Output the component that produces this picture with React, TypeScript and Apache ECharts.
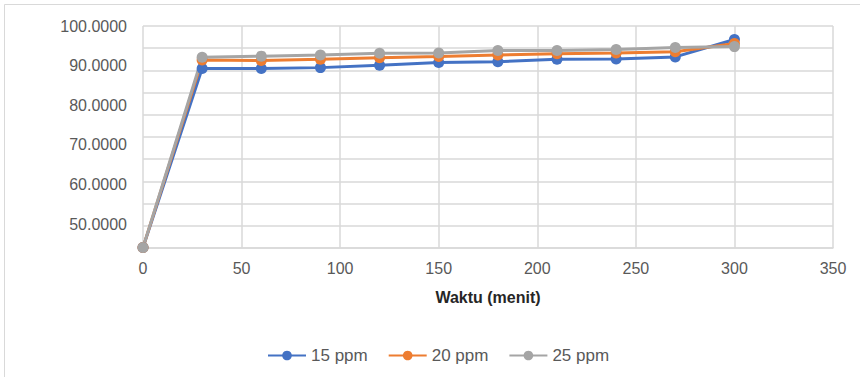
import React, { useEffect, useRef } from "react";
import * as echarts from "echarts";

const times = [0, 30, 60, 90, 120, 150, 180, 210, 240, 270, 300];
const seriesNames = ["15 ppm", "20 ppm", "25 ppm"];
const ppm15 = [44.1, 89.3, 89.3, 89.5, 90.1, 90.8, 91.0, 91.6, 91.7, 92.2, 96.6];
const ppm20 = [44.1, 91.4, 91.3, 91.6, 92.0, 92.3, 92.7, 93.0, 93.2, 93.5, 95.6];
const ppm25 = [44.1, 92.1, 92.4, 92.7, 93.1, 93.2, 93.8, 93.8, 94.1, 94.6, 94.8];
const colors = ["#4472C4", "#ED7D31", "#A5A5A5"];
const xTitle = "Waktu (menit)";

export default function App() {
  const ref = useRef<HTMLDivElement>(null);
  useEffect(() => {
    if (!ref.current) return;
    const chart = echarts.init(ref.current, null, { renderer: "svg" });
    const all = [ppm15, ppm20, ppm25];
    chart.setOption({
      animation: false,
      backgroundColor: "#ffffff",
      textStyle: { fontFamily: "Liberation Sans, Arial, sans-serif" },
      graphic: [
        {
          type: "rect",
          shape: { x: 4.5, y: 4.5, width: 900, height: 420 },
          style: { fill: "none", stroke: "#d9d9d9", lineWidth: 1 },
          silent: true,
          z: -10,
        },
      ],
      grid: { left: 143, right: 27, top: 26, bottom: 129 },
      legend: {
        data: seriesNames,
        left: 262,
        top: 342,
        itemWidth: 38,
        itemHeight: 12,
        itemGap: 20,
        textStyle: { color: "#595959", fontSize: 17 },
      },
      xAxis: {
        type: "value",
        min: 0,
        max: 350,
        interval: 50,
        name: xTitle,
        nameLocation: "middle",
        nameGap: 41,
        nameTextStyle: { color: "#262626", fontSize: 16, fontWeight: "bold" },
        axisLine: { show: true, lineStyle: { color: "#d9d9d9", width: 1.5 } },
        axisTick: { show: false },
        axisLabel: { color: "#595959", fontSize: 16, margin: 12 },
        splitLine: { show: true, lineStyle: { color: "#d9d9d9", width: 1.5 } },
      },
      yAxis: [
        {
          type: "value",
          min: 44,
          max: 100,
          interval: 2,
          position: "left",
          axisLine: { show: false },
          axisTick: { show: false },
          splitLine: { show: false },
          axisLabel: {
            color: "#595959",
            fontSize: 16,
            margin: 16,
            formatter: (v: number) =>
              Math.abs(v % 10) < 1e-6 ? v.toFixed(4) : "",
          },
        },
        {
          type: "value",
          min: 0,
          max: 10,
          interval: 1,
          position: "left",
          axisLine: { show: false },
          axisTick: { show: false },
          axisLabel: { show: false },
          splitLine: { show: true, lineStyle: { color: "#d9d9d9", width: 1.5 } },
        },
      ],
      series: seriesNames.map((name, i) => ({
        name,
        type: "line",
        yAxisIndex: 0,
        data: times.map((t, j) => [t, all[i][j]]),
        symbol: "circle",
        symbolSize: 11,
        color: colors[i],
        lineStyle: { width: 3, color: colors[i] },
        itemStyle: { color: colors[i] },
      })),
    });
    return () => chart.dispose();
  }, []);
  return (
    <div
      ref={ref}
      style={{ position: "fixed", left: 0, top: 0, width: 860, height: 377 }}
    />
  );
}
